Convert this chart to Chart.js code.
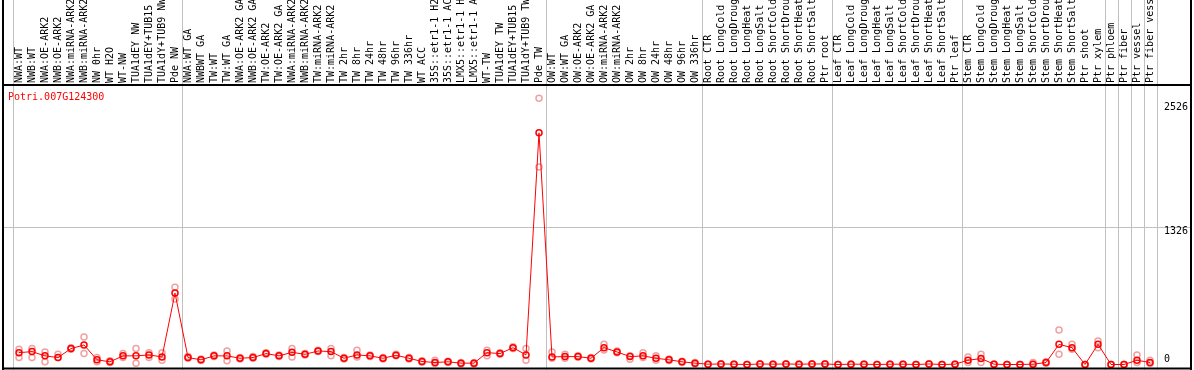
<!DOCTYPE html>
<html>
<head>
<meta charset="utf-8">
<title>Potri.007G124300</title>
<script src="https://cdn.jsdelivr.net/npm/chart.js@4.4.1/dist/chart.umd.min.js"></script>
<style>
  body { margin: 0; background: #fff; }
  canvas { display: block; }
</style>
</head>
<body>
<canvas id="myChart" width="1194" height="370"></canvas>
<script>
'use strict';

//********************* Global variables *************************/

let geneName = 'Potri.007G124300';

let sampleNames = [
  'NWA:WT', 'NWB:WT', 'NWA:OE-ARK2', 'NWB:OE-ARK2', 'NWA:miRNA-ARK2', 'NWB:miRNA-ARK2', 'NW 0hr', 'WT H2O', 'WT-NW', 'TUA1dEY NW', 'TUA1dEY+TUB15 NW', 'TUA1dY+TUB9 NW', 'Pde NW',
  'NWA:WT GA', 'NWBWT GA', 'TW:WT', 'TW:WT GA', 'NWA:OE-ARK2 GA', 'NWB:OE-ARK2 GA', 'TW:OE-ARK2', 'TW:OE-ARK2 GA', 'NWA:miRNA-ARK2 GA', 'NWB:miRNA-ARK2 GA', 'TW:miRNA-ARK2', 'TW:miRNA-ARK2 GA',
  'TW 2hr', 'TW 8hr', 'TW 24hr', 'TW 48hr', 'TW 96hr', 'TW 336hr', 'WT ACC', '35S::etr1-1 H2O', '35S::etr1-1 ACC', 'LMX5::etr1-1 H2O', 'LMX5::etr1-1 ACC', 'WT-TW', 'TUA1dEY TW', 'TUA1dEY+TUB15 TW', 'TUA1dY+TUB9 TW', 'Pde TW',
  'OW:WT', 'OW:WT GA', 'OW:OE-ARK2', 'OW:OE-ARK2 GA', 'OW:miRNA-ARK2', 'OW:miRNA-ARK2 GA', 'OW 2hr', 'OW 8hr', 'OW 24hr', 'OW 48hr', 'OW 96hr', 'OW 336hr',
  'Root CTR', 'Root LongCold', 'Root LongDrought', 'Root LongHeat', 'Root LongSalt', 'Root ShortCold', 'Root ShortDrought', 'Root ShortHeat', 'Root ShortSalt', 'Ptr root',
  'Leaf CTR', 'Leaf LongCold', 'Leaf LongDrought', 'Leaf LongHeat', 'Leaf LongSalt', 'Leaf ShortCold', 'Leaf ShortDrought', 'Leaf ShortHeat', 'Leaf ShortSalt', 'Ptr leaf',
  'Stem CTR', 'Stem LongCold', 'Stem LongDrought', 'Stem LongHeat', 'Stem LongSalt', 'Stem ShortCold', 'Stem ShortDrought', 'Stem ShortHeat', 'Stem ShortSalt', 'Ptr shoot', 'Ptr xylem',
  'Ptr phloem', 'Ptr fiber', 'Ptr vessel', 'Ptr fiber vessel'
];

let meanValues = [
  114, 124, 83, 67, 153, 188, 45, 26, 83, 83, 92, 73, 687,
  67, 45, 83, 83, 60, 67, 105, 83, 117, 98, 130, 124, 60, 92, 83, 60, 89, 60, 29, 19, 26, 13, 13, 114, 105, 162, 92, 2229,
  73, 76, 76, 60, 162, 121, 76, 83, 60, 45, 26, 13,
  3, 5, 3, 0, 5, 3, 5, 3, 5, 5,
  0, 3, 3, 0, 3, 3, 0, 5, 0, 3,
  41, 57, 3, 0, 0, 3, 19, 194, 162, 0, 194,
  0, 0, 41, 19
];

let repHigh = [
  146, 153, 121, 98, 160, 264, 67, 35, 105, 153, 114, 114, 744,
  76, 52, 92, 130, 67, 76, 114, 92, 153, 105, 137, 153, 67, 137, 92, 67, 98, 67, 35, 41, 32, 19, 19, 137, 114, 170, 153, 2563,
  121, 98, 83, 67, 194, 130, 83, 114, 83, 52, 32, 19,
  5, 8, 5, 0, 8, 5, 8, 5, 8, 8,
  0, 5, 5, 0, 5, 5, 0, 8, 0, 5,
  73, 98, 5, 0, 0, 19, 26, 331, 194, 0, 226,
  0, 0, 92, 41
];

let repLow = [
  67, 67, 26, 67, 146, 105, 26, 19, 67, 13, 67, 41, 630,
  60, 38, 76, 35, 52, 60, 98, 76, 73, 92, 124, 83, 52, 73, 76, 52, 83, 52, 22, 10, 19, 6, 6, 83, 98, 155, 41, 1901,
  60, 60, 70, 52, 140, 114, 51, 67, 41, 38, 19, 6,
  0, 3, 0, 0, 3, 0, 3, 0, 3, 3,
  0, 0, 0, 0, 0, 0, 0, 3, 0, 0,
  19, 19, 0, 0, 0, 0, 13, 98, 146, 0, 162,
  0, 0, 19, 10
];

let yTickValues = [0, 1326, 2526];

// index of the first sample of each group (last entry = end)
let groupStarts = [0, 13, 41, 53, 63, 73, 84, 85, 86, 87, 88];

//********************** DOM Refrence ****************************/

let canvasElement = document.getElementById('myChart');
const ctx = canvasElement.getContext('2d');

//*********************** Helper Function *********************** */

let monoFont = '10px "DejaVu Sans Mono", monospace';

let framePlugin = {
  id: 'framePlugin',
  beforeDatasetsDraw(chart) {
    let c = chart.ctx;
    let xScale = chart.scales.x;
    let yScale = chart.scales.y;
    c.save();
    c.strokeStyle = '#c0c0c0';
    c.lineWidth = 1;

    // group separators, full height
    for (let i = 0; i < groupStarts.length; i++) {
      let x = Math.round(xScale.getPixelForValue(groupStarts[i] - 0.5)) + 0.5;
      c.beginPath();
      c.moveTo(x, 0);
      c.lineTo(x, chart.height);
      c.stroke();
    }

    // middle grid line
    let yMid = Math.round(yScale.getPixelForValue(yTickValues[1])) + 0.5;
    c.beginPath();
    c.moveTo(3, yMid);
    c.lineTo(1191, yMid);
    c.stroke();
    c.restore();
  },
  afterDraw(chart) {
    let c = chart.ctx;
    let yScale = chart.scales.y;
    c.save();

    // black frame
    c.strokeStyle = '#000';
    c.lineWidth = 2;
    c.beginPath();
    c.moveTo(3, 0);
    c.lineTo(3, 370);
    c.moveTo(1191, 0);
    c.lineTo(1191, 370);
    c.moveTo(3, 85);
    c.lineTo(1191, 85);
    c.moveTo(3, 368.5);
    c.lineTo(1191, 368.5);
    c.stroke();

    // value labels on the right
    c.font = monoFont;
    c.fillStyle = '#000';
    c.textAlign = 'left';
    c.textBaseline = 'middle';
    for (let i = 0; i < yTickValues.length; i++) {
      let v = yTickValues[i];
      let y = yScale.getPixelForValue(v);
      let txt = v === 0 ? '0' : v + '.';
      y = v === 0 ? y - 5 : y + 5;
      c.fillText(txt, 1164, y);
    }

    // gene name
    c.fillStyle = 'red';
    c.fillText(geneName, 8, 97);
    c.restore();
  }
};

//***************************** Add display chart ************************** */

function renderMyChart(){
  const myChart = new Chart(ctx, {
    type: 'line',
    data: {
      labels: sampleNames,
      datasets: [{
        label: 'mean',
        data: meanValues,
        borderColor: 'red',
        borderWidth: 1,
        pointRadius: 3,
        pointBorderWidth: 1.5,
        pointBorderColor: 'red',
        pointBackgroundColor: 'rgba(0,0,0,0)',
        tension: 0,
        clip: false,
        order: 1
      },
      {
        label: 'rep high',
        data: repHigh,
        showLine: false,
        pointRadius: 3,
        pointBorderWidth: 1.5,
        pointBorderColor: 'rgba(235, 130, 130, 0.75)',
        pointBackgroundColor: 'rgba(0,0,0,0)',
        clip: false,
        order: 2
      },
      {
        label: 'rep low',
        data: repLow,
        showLine: false,
        pointRadius: 3,
        pointBorderWidth: 1.5,
        pointBorderColor: 'rgba(235, 130, 130, 0.75)',
        pointBackgroundColor: 'rgba(0,0,0,0)',
        clip: false,
        order: 2
      }]
    },
    options: {
      responsive: false,
      animation: false,
      layout: {
        padding: { left: 12.5, right: 37.5, top: 0, bottom: 3 }
      },
      plugins: {
        legend: { display: false },
        tooltip: { enabled: false }
      },
      scales: {
        x: {
          type: 'category',
          position: 'top',
          offset: true,
          grid: { display: false, drawTicks: false },
          border: { display: false },
          ticks: {
            autoSkip: false,
            minRotation: 90,
            maxRotation: 90,
            padding: 19,
            labelOffset: 12,
            color: '#000',
            font: { family: '"DejaVu Sans Mono", monospace', size: 10 }
          },
          afterFit: function(scale) {
            scale.height = 102;
            scale.paddingLeft = 0;
            scale.paddingRight = 0;
          }
        },
        y: {
          display: false,
          min: 0,
          max: yTickValues[2]
        }
      }
    },
    plugins: [framePlugin]
  });
  return myChart;
}

renderMyChart();
</script>
</body>
</html>
